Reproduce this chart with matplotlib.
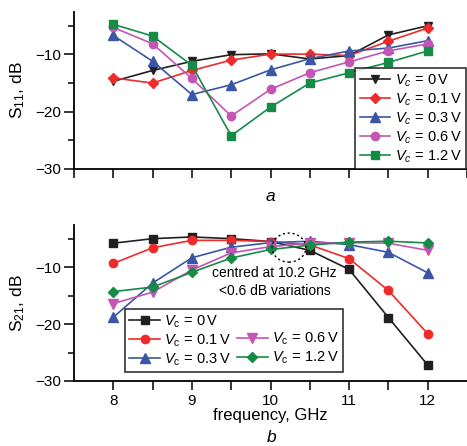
import matplotlib
matplotlib.use("Agg")
import matplotlib.pyplot as plt
from matplotlib.patches import Ellipse
from matplotlib.lines import Line2D
from matplotlib.ticker import MultipleLocator

plt.rcParams['font.family'] = ['Liberation Sans', 'DejaVu Sans']
plt.rcParams['mathtext.fontset'] = 'custom'
plt.rcParams['mathtext.rm'] = 'Liberation Sans'
plt.rcParams['mathtext.it'] = 'Liberation Sans:italic'
plt.rcParams['mathtext.bf'] = 'Liberation Sans:bold'

freq = [8, 8.5, 9, 9.5, 10, 10.5, 11, 11.5, 12]
vc_labels = ['0', '0.1', '0.3', '0.6', '1.2']

s11_0 = [-14.7, -12.8, -11.2, -10.05, -9.9, -10.8, -10.2, -6.6, -5.0]
s11_01 = [-14.1, -15.0, -12.8, -11.0, -9.95, -9.95, -10.2, -7.7, -5.4]
s11_03 = [-6.7, -11.2, -17.0, -15.3, -12.7, -10.75, -9.4, -8.9, -7.6]
s11_06 = [-5.3, -8.15, -14.2, -20.75, -16.1, -13.2, -11.3, -9.4, -8.15]
s11_12 = [-4.75, -6.8, -11.9, -24.2, -19.2, -15.0, -13.2, -11.4, -9.4]

s21_0 = [-5.8, -5.0, -4.7, -5.0, -5.5, -7.05, -10.4, -18.85, -27.2]
s21_01 = [-9.35, -6.6, -5.3, -5.3, -5.5, -6.1, -8.5, -14.1, -21.7]
s21_03 = [-18.8, -12.8, -8.35, -6.5, -5.7, -5.45, -6.05, -7.4, -11.0]
s21_06 = [-16.4, -14.4, -10.5, -7.5, -6.4, -5.8, -5.7, -5.8, -7.05]
s21_12 = [-14.3, -13.5, -10.9, -8.4, -6.9, -6.15, -5.6, -5.45, -5.75]

colors = ['#231f20', '#ee2a2a', '#3a56a5', '#c455b5', '#168a47']
top_markers = ['v', 'D', '^', 'o', 's']
top_msizes = [6, 5, 6.5, 6, 5.5]
bot_markers = ['s', 'o', '^', 'v', 'D']
bot_msizes = [5.5, 6, 6.5, 6.5, 5.5]

fig = plt.figure(figsize=(4.67, 4.46), dpi=100)
ax1 = fig.add_axes([74/467, 1-169/446, (467-74)/467, 157/446])
ax2 = fig.add_axes([74/467, 1-381/446, (467-74)/467, 156/446])

def style(ax):
    for s in ['top', 'right']:
        ax.spines[s].set_visible(False)
    for s in ['left', 'bottom']:
        ax.spines[s].set_linewidth(1.3)
    ax.set_xlim(7.5, 12.5)
    ax.set_ylim(-30, -2.6)
    ax.xaxis.set_major_locator(MultipleLocator(0.5))
    ax.yaxis.set_major_locator(MultipleLocator(10))
    ax.yaxis.set_minor_locator(MultipleLocator(5))
    ax.tick_params(axis='y', which='major', direction='out', length=7, width=1.1, labelsize=11, pad=2)
    ax.tick_params(axis='y', which='minor', direction='out', length=4, width=1.1)
    ax.tick_params(axis='x', which='major', direction='out', length=6.5, width=1.1, labelsize=11, pad=3)

style(ax1)
style(ax2)

top_series = [s11_0, s11_01, s11_03, s11_06, s11_12]
for ys, c, m, ms, lab in zip(top_series, colors, top_markers, top_msizes, vc_labels):
    ax1.plot(freq, ys, color=c, marker=m, markersize=ms, linewidth=1.2,
             label=r'$V_c\,=\,%s\,$V' % lab)
ax1.set_xticklabels([])
ax1.set_ylabel(r'S$_{11}$, dB', fontsize=12.5, labelpad=6)
ax1.set_xlabel('a', fontstyle='italic', fontsize=12.5, labelpad=5)
leg1 = ax1.legend(loc='upper right', bbox_to_anchor=(466/467, 1-68/446),
                  bbox_transform=fig.transFigure, fontsize=10.5, frameon=True,
                  fancybox=False, edgecolor='black', handlelength=2.1,
                  handletextpad=0.3, labelspacing=0.18, borderpad=0.3,
                  borderaxespad=0)
leg1.get_frame().set_linewidth(1.2)

bot_series = [s21_0, s21_01, s21_03, s21_06, s21_12]
handles = []
for ys, c, m, ms, lab in zip(bot_series, colors, bot_markers, bot_msizes, vc_labels):
    h, = ax2.plot(freq, ys, color=c, marker=m, markersize=ms, linewidth=1.2,
                  label=r'$V_\mathrm{c}\,=\,%s\,$V' % lab)
    handles.append(h)
blank = Line2D([], [], linestyle='none', marker=None)
leg_handles = [handles[0], handles[1], handles[2], blank, handles[3], handles[4]]
leg_labels = [h.get_label() for h in handles[:3]] + [''] + [h.get_label() for h in handles[3:]]
leg2 = ax2.legend(leg_handles, leg_labels, ncol=2, loc='upper left',
                  bbox_to_anchor=(125/467, 1-309/446), bbox_transform=fig.transFigure,
                  fontsize=10.5, frameon=True, fancybox=False, edgecolor='black',
                  handlelength=2.1, handletextpad=0.3, labelspacing=0.18,
                  columnspacing=0.4, borderpad=0.3, borderaxespad=0)
leg2.get_frame().set_linewidth(1.2)

ax2.set_xticks([8, 8.5, 9, 9.5, 10, 10.5, 11, 11.5, 12])
ax2.set_xticklabels(['8', '', '9', '', '10', '', '11', '', '12'])
ax2.set_ylabel(r'S$_{21}$, dB', fontsize=12.5, labelpad=6)
ax2.set_xlabel('frequency, GHz', fontsize=12, labelpad=0)
fig.text(272/467, 1-438/446, 'b', fontstyle='italic', fontsize=12.5, ha='center', va='center')

ax2.add_patch(Ellipse((10.235, -6.57), 0.43, 5.1, fill=False, linestyle=(0, (1.5, 2)),
                      linewidth=1.0, edgecolor='black', zorder=5))
ax2.text(10.05, -12.6, 'centred at 10.2 GHz\n<0.6 dB variations', ha='center', va='center',
         fontsize=10, linespacing=1.3)

fig.savefig('out.png', dpi=100)
